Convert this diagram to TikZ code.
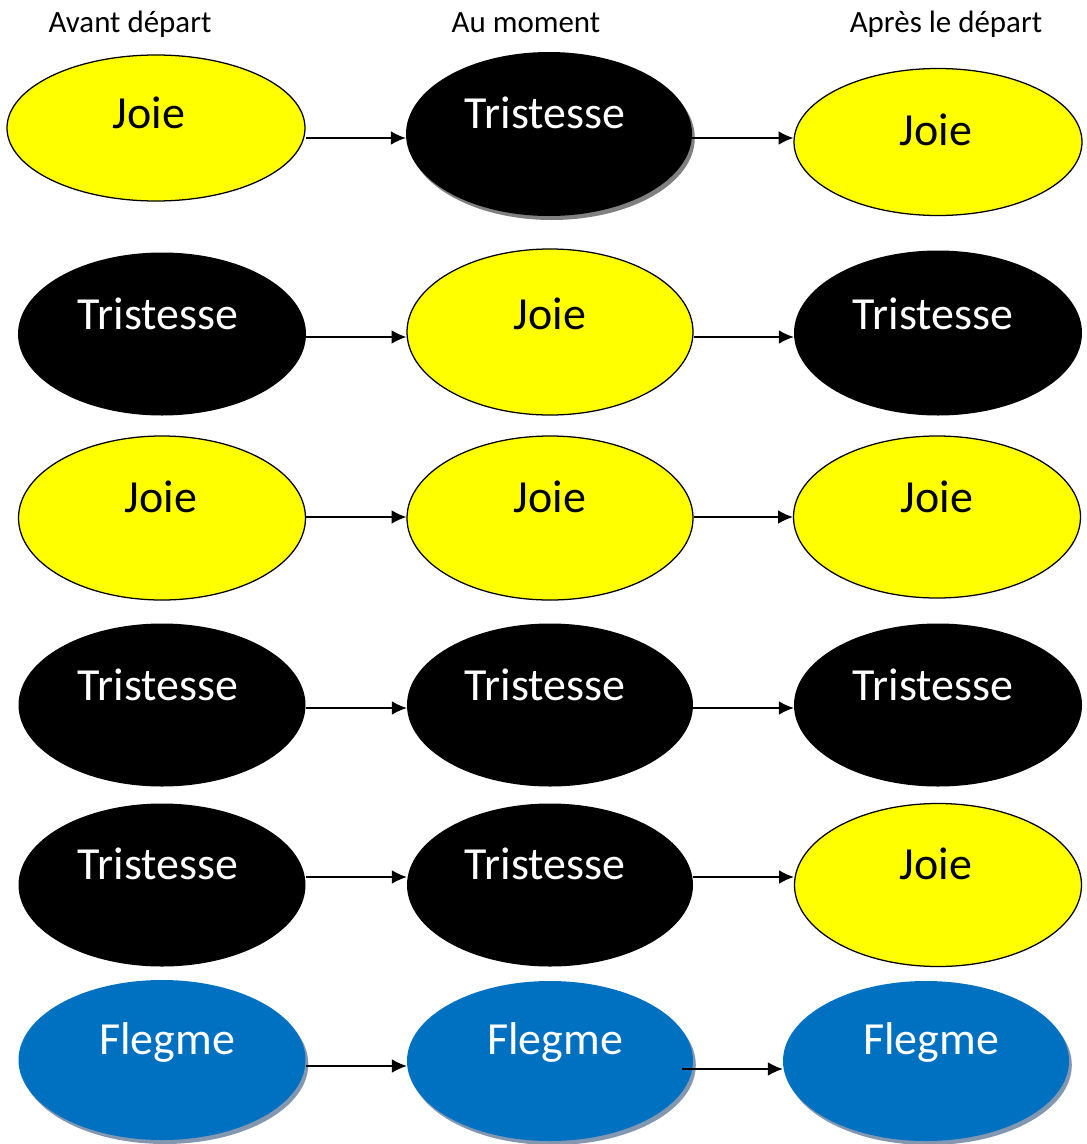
\documentclass[tikz,border=0pt]{standalone}
\usepackage{fontspec}
\setmainfont{Carlito}
\usetikzlibrary{shapes.geometric,arrows.meta,shadows}
\definecolor{jaune}{RGB}{255,255,0}
\definecolor{bleu}{RGB}{0,112,192}
\definecolor{ombregris}{RGB}{128,128,128}
\definecolor{ombrebleu}{RGB}{132,151,176}
\begin{document}
\begin{tikzpicture}[x=0.025cm, y=-0.025cm,
  etat/.style 2 args={ellipse, inner sep=0pt, minimum width=#1*0.025cm, minimum height=#2*0.025cm},
  joie/.style={fill=jaune, draw=black, line width=0.9pt},
  tristesse/.style={fill=black},
  ombre/.style={drop shadow={shadow xshift=0.07cm, shadow yshift=-0.1cm, fill=#1, opacity=1}},
  flegme/.style={fill=bleu, ombre=ombrebleu},
  mot/.style={anchor=base, inner sep=0pt, font=\fontsize{32.7}{39}\selectfont},
  titre/.style={anchor=base, inner sep=0pt, font=\fontsize{22}{26}\selectfont},
  fleche/.style={-{Latex[length=0.37cm,width=0.34cm]}, line width=0.85pt}]
\useasboundingbox (0,0) rectangle (1086,1144);
\node[titre] (avant) at (130,32) {Avant départ};
\node[titre] (moment) at (526,32) {Au moment};
\node[titre] (apres) at (946,32) {Après le départ};

\node[etat={298}{146}, joie] (e11) at (156,128) {};
\node[etat={286}{164}, tristesse, ombre=ombregris] (e12) at (549,134) {};
\node[etat={288}{147}, joie] (e13) at (938,142) {};
\node[mot] (m11) at (149,128) {Joie};
\node[mot, white] (m12) at (545,128) {Tristesse};
\node[mot] (m13) at (936,145) {Joie};

\node[etat={288}{163}, tristesse] (e21) at (162,334) {};
\node[etat={286}{166}, joie] (e22) at (550,332) {};
\node[etat={288}{165}, tristesse] (e23) at (938,333) {};
\node[mot, white] (m21) at (158,329) {Tristesse};
\node[mot] (m22) at (550,329) {Joie};
\node[mot, white] (m23) at (933,329) {Tristesse};

\node[etat={287}{164}, joie] (e31) at (162,518) {};
\node[etat={286}{164}, joie] (e32) at (550,518) {};
\node[etat={287}{162}, joie] (e33) at (937,517) {};
\node[mot] (m31) at (161,512) {Joie};
\node[mot] (m32) at (550,512) {Joie};
\node[mot] (m33) at (937,512) {Joie};

\node[etat={287}{163}, tristesse] (e41) at (162,705) {};
\node[etat={286}{163}, tristesse] (e42) at (550,705) {};
\node[etat={288}{163}, tristesse] (e43) at (938,705) {};
\node[mot, white] (m41) at (158,700) {Tristesse};
\node[mot, white] (m42) at (545,700) {Tristesse};
\node[mot, white] (m43) at (933,700) {Tristesse};

\node[etat={287}{163}, tristesse] (e51) at (162,885) {};
\node[etat={286}{163}, tristesse] (e52) at (550,885) {};
\node[etat={287}{163}, joie] (e53) at (938,885) {};
\node[mot, white] (m51) at (158,879) {Tristesse};
\node[mot, white] (m52) at (545,879) {Tristesse};
\node[mot] (m53) at (936,879) {Joie};

\node[etat={287}{160}, flegme] (e61) at (162,1060) {};
\node[etat={286}{160}, flegme] (e62) at (550,1061) {};
\node[etat={286}{160}, flegme] (e63) at (926,1061) {};
\node[mot, white] (m61) at (167,1054) {Flegme};
\node[mot, white] (m62) at (555,1054) {Flegme};
\node[mot, white] (m63) at (931,1054) {Flegme};

\draw[fleche] (e11.east |- 0,138) -- (e12.west |- 0,138);
\draw[fleche] (e12.east |- 0,138) -- (e13.west |- 0,138);
\draw[fleche] (e21.east |- 0,337) -- (e22.west |- 0,337);
\draw[fleche] (e22.east |- 0,337) -- (e23.west |- 0,337);
\draw[fleche] (e31.east |- 0,517) -- (e32.west |- 0,517);
\draw[fleche] (e32.east |- 0,517) -- (e33.west |- 0,517);
\draw[fleche] (e41.east |- 0,708) -- (e42.west |- 0,708);
\draw[fleche] (e42.east |- 0,708) -- (e43.west |- 0,708);
\draw[fleche] (e51.east |- 0,877) -- (e52.west |- 0,877);
\draw[fleche] (e52.east |- 0,877) -- (e53.west |- 0,877);
\draw[fleche] (e61.east |- 0,1066) -- (e62.west |- 0,1066);
\draw[fleche] ([xshift=-0.27cm]e62.east |- 0,1069) -- (e63.west |- 0,1069);
\end{tikzpicture}
\end{document}
